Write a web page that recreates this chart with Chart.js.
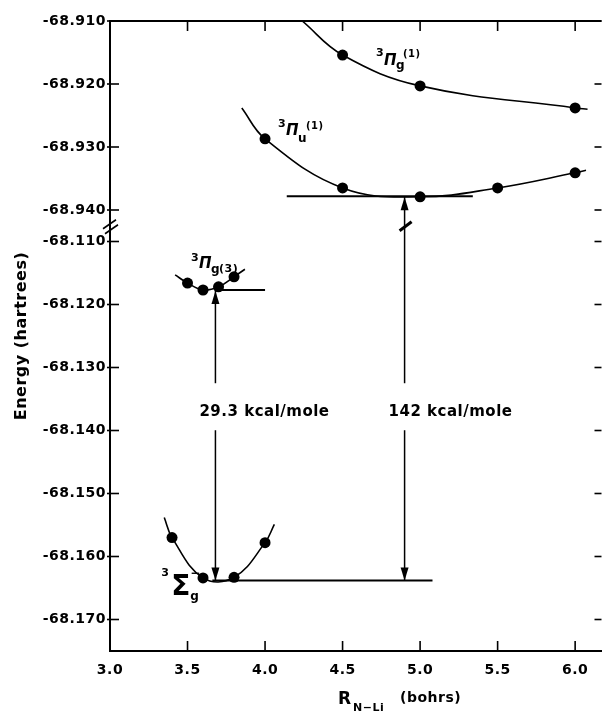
<!DOCTYPE html>
<html>
<head>
<meta charset="utf-8">
<script src="https://cdn.jsdelivr.net/npm/chart.js@4.4.1/dist/chart.umd.min.js"></script>
<style>
  html, body { margin: 0; padding: 0; background: #fff; }
  #chart { display: block; }
</style>
</head>
<body>
<canvas id="chart" width="607" height="714"></canvas>
<script>
// N-Li distance (bohrs) and energy (hartrees) of the computed points
const piG1R = [4.5, 5.0, 6.0];
const piG1E = [-68.9154, -68.9203, -68.9238];
const piU1R = [4.0, 4.5, 5.0, 5.5, 6.0];
const piU1E = [-68.9287, -68.9365, -68.9379, -68.9365, -68.9341];
const piG3R = [3.5, 3.6, 3.7, 3.8];
const piG3E = [-68.1166, -68.1177, -68.1172, -68.1156];
const sigR = [3.4, 3.6, 3.8, 4.0];
const sigE = [-68.1570, -68.1634, -68.1633, -68.1578];

// where the fitted curves start and stop
const piG1Ends = [[4.24, -68.9100], [6.08, -68.9240]];
const piU1Ends = [[3.85, -68.9238], [6.07, -68.9337]];
const piG3Ends = [[3.42, -68.1153], [3.87, -68.1144]];
const sigEnds = [[3.35, -68.1538], [4.06, -68.1549]];

// minimum levels (horizontal lines)
const levelFrom = [4.14, 3.68, 3.66];
const levelTo = [5.34, 4.00, 5.08];
const levelE = [-68.9378, -68.1177, -68.1638];

// vertical transitions
const transR = [3.68, 4.90];
const transTop = [-68.1177, -68.9378];
const transBottom = [-68.1638, -68.1638];
const transLabels = ['29.3 kcal/mole', '142 kcal/mole'];

// axis ticks
const xTicks = [3.0, 3.5, 4.0, 4.5, 5.0, 5.5, 6.0];
const lowerTicks = [-68.170, -68.160, -68.150, -68.140, -68.130, -68.120, -68.110];
const upperTicks = [-68.940, -68.930, -68.920, -68.910];

const fontName = 'DejaVu Sans';
const ink = '#000';

// broken axis: lower block -68.170..-68.110, then a half step gap, then -68.940..-68.910
function eToV(e) {
  return e < -68.5 ? 6.5 + (e + 68.94) * 100 : (e + 68.17) * 100;
}

function pts(rs, es) {
  return rs.map((r, i) => ({ x: r, y: eToV(es[i]) }));
}

function curve(ends, rs, es) {
  return [{ x: ends[0][0], y: eToV(ends[0][1]) }].concat(pts(rs, es), [{ x: ends[1][0], y: eToV(ends[1][1]) }]);
}

const yTickE = lowerTicks.concat(upperTicks);

const dotStyle = { showLine: false, pointRadius: 5.5, pointHoverRadius: 5.5, pointBackgroundColor: ink, pointBorderWidth: 0 };
const curveStyle = { showLine: true, tension: 0.4, pointRadius: 0, borderColor: ink, borderWidth: 1.6, fill: false };
const levelStyle = { showLine: true, tension: 0, pointRadius: 0, borderColor: ink, borderWidth: 2, fill: false };
const arrowStyle = { showLine: true, tension: 0, pointRadius: 0, borderColor: ink, borderWidth: 1.5, fill: false };

const datasets = [
  Object.assign({ data: pts(piG1R, piG1E) }, dotStyle),
  Object.assign({ data: pts(piU1R, piU1E) }, dotStyle),
  Object.assign({ data: pts(piG3R, piG3E) }, dotStyle),
  Object.assign({ data: pts(sigR, sigE) }, dotStyle),
  Object.assign({ data: curve(piG1Ends, piG1R, piG1E) }, curveStyle),
  Object.assign({ data: curve(piU1Ends, piU1R, piU1E) }, curveStyle),
  Object.assign({ data: curve(piG3Ends, piG3R, piG3E) }, curveStyle),
  Object.assign({ data: curve(sigEnds, sigR, sigE) }, curveStyle)
];
levelFrom.forEach((f, i) => {
  datasets.push(Object.assign({ data: [{ x: f, y: eToV(levelE[i]) }, { x: levelTo[i], y: eToV(levelE[i]) }] }, levelStyle));
});
transR.forEach((r, i) => {
  datasets.push(Object.assign({ data: [{ x: r, y: eToV(transBottom[i]) }, { x: r, y: eToV(transTop[i]) }] }, arrowStyle));
});

// state labels: anchor in data units, pieces as [text, dx, dy, size, italic]
const stateLabels = [
  { r: 4.767, e: -68.9170, parts: [['3', -8, -9, 11, false], ['\u03A0', 0, 0, 15, true], ['g', 12, 4, 12, false], ['(1)', 19, -8, 10, false]] },
  { r: 4.135, e: -68.9281, parts: [['3', -8, -8, 11, false], ['\u03A0', 0, 0, 15, true], ['u', 12, 7, 12, false], ['(1)', 20, -6, 10, false]] },
  { r: 3.574, e: -68.1142, parts: [['3', -8, -7, 11, false], ['\u03A0', 0, 0, 15, true], ['g', 12, 5, 12, false], ['(3)', 20, 4, 11, false]] },
  { r: 3.395, e: -68.1661, parts: [['3', -10, -19, 11, false], ['\u03A3', 0, 0, 28, false], ['g', 19, 5, 12, false], ['\u2212', 19, -18, 12, false]] }
];
const transLabelE = -68.1371;

function seg(ctx, x1, y1, x2, y2) {
  ctx.beginPath();
  ctx.moveTo(x1, y1);
  ctx.lineTo(x2, y2);
  ctx.stroke();
}

function arrowHead(ctx, x, tipY, up) {
  const baseY = up ? tipY + 13 : tipY - 13;
  ctx.beginPath();
  ctx.moveTo(x, tipY);
  ctx.lineTo(x - 4, baseY);
  ctx.lineTo(x + 4, baseY);
  ctx.closePath();
  ctx.fill();
}

const decorations = {
  id: 'decorations',
  beforeDraw(chart) {
    chart.ctx.letterSpacing = '0.5px';
  },
  afterDatasetsDraw(chart) {
    const { ctx, scales: { x, y } } = chart;
    ctx.save();
    ctx.fillStyle = ink;
    ctx.strokeStyle = ink;
    ctx.letterSpacing = '0.5px';

    // arrow heads
    transR.forEach((r, i) => {
      const px = x.getPixelForValue(r);
      arrowHead(ctx, px, y.getPixelForValue(eToV(transTop[i])) + 1, true);
      arrowHead(ctx, px, y.getPixelForValue(eToV(transBottom[i])), false);
    });

    // transition energies, cutting the arrows
    ctx.font = 'bold 15px ' + fontName;
    ctx.textBaseline = 'middle';
    ctx.textAlign = 'left';
    transR.forEach((r, i) => {
      const px = x.getPixelForValue(r) - 16;
      const py = y.getPixelForValue(eToV(transLabelE));
      const w = ctx.measureText(transLabels[i]).width;
      ctx.fillStyle = '#fff';
      ctx.fillRect(px - 2, py - 29, w + 4, 47);
      ctx.fillStyle = ink;
      ctx.fillText(transLabels[i], px, py);
    });

    // break mark on the long arrow
    const breakY = y.getPixelForValue(6.25);
    const ax = x.getPixelForValue(transR[1]);
    ctx.lineWidth = 3;
    seg(ctx, ax - 5, breakY + 5, ax + 7, breakY - 4);

    // state labels
    ctx.textBaseline = 'alphabetic';
    stateLabels.forEach(lab => {
      const px = x.getPixelForValue(lab.r);
      const py = y.getPixelForValue(eToV(lab.e));
      lab.parts.forEach(p => {
        ctx.font = (p[4] ? 'italic ' : '') + 'bold ' + p[3] + 'px ' + fontName;
        ctx.fillText(p[0], px + p[1], py + p[2]);
      });
    });
    ctx.restore();
  },
  afterDraw(chart) {
    const { ctx, chartArea: a, scales: { x, y } } = chart;
    ctx.save();
    ctx.strokeStyle = ink;
    ctx.fillStyle = ink;

    // top frame line
    ctx.lineWidth = 2;
    seg(ctx, a.left - 1, a.top, a.right, a.top);

    // inward ticks
    ctx.lineWidth = 1.6;
    xTicks.forEach(v => {
      const px = x.getPixelForValue(v);
      seg(ctx, px, a.top, px, a.top + 10);
      seg(ctx, px, a.bottom, px, a.bottom - 10);
    });
    yTickE.forEach(e => {
      const py = y.getPixelForValue(eToV(e));
      seg(ctx, a.left - 3, py, a.left + 9, py);
      seg(ctx, a.right - 7, py, a.right, py);
    });

    // axis break "//"
    const by = y.getPixelForValue(6.25);
    ctx.lineWidth = 1.6;
    seg(ctx, a.left - 7, by + 3, a.left + 6, by - 6);
    seg(ctx, a.left - 5, by + 8, a.left + 8, by - 1);

    // x axis title with subscript
    ctx.letterSpacing = '0.5px';
    ctx.textAlign = 'left';
    ctx.textBaseline = 'alphabetic';
    const tx = a.left + 228;
    const ty = a.bottom + 53;
    ctx.font = 'bold 17px ' + fontName;
    ctx.fillText('R', tx, ty);
    ctx.font = 'bold 11px ' + fontName;
    ctx.fillText('N\u2212Li', tx + 15, ty + 7);
    ctx.font = 'bold 14px ' + fontName;
    ctx.fillText('(bohrs)', tx + 62, ty - 2);
    ctx.restore();
  }
};

new Chart(document.getElementById('chart'), {
  type: 'scatter',
  data: { datasets: datasets },
  options: {
    responsive: false,
    animation: false,
    events: [],
    layout: { padding: { top: 21, right: 0, bottom: 0, left: 0 } },
    plugins: { legend: { display: false }, tooltip: { enabled: false } },
    scales: {
      x: {
        type: 'linear',
        min: 3.0,
        max: 6.17,
        afterBuildTicks: scale => { scale.ticks = xTicks.map(v => ({ value: v })); },
        afterFit: scale => { scale.height = 63; },
        grid: { display: true, drawOnChartArea: false, drawTicks: false },
        border: { display: true, color: ink, width: 2 },
        ticks: {
          color: ink,
          padding: 11,
          maxRotation: 0,
          font: { family: fontName, size: 14, weight: 'bold' },
          callback: v => v.toFixed(1)
        }
      },
      y: {
        type: 'linear',
        min: -0.5,
        max: 9.5,
        afterBuildTicks: scale => { scale.ticks = yTickE.map(e => ({ value: eToV(e) })); },
        afterFit: scale => { scale.width = 110; },
        grid: { display: true, drawOnChartArea: false, drawTicks: false },
        border: { display: true, color: ink, width: 2 },
        ticks: {
          color: ink,
          padding: 4,
          font: { family: fontName, size: 14, weight: 'bold' },
          callback: (v, i) => yTickE[i].toFixed(3)
        },
        title: {
          display: true,
          text: 'Energy (hartrees)',
          color: ink,
          font: { family: fontName, size: 16, weight: 'bold' },
          padding: { top: 12, bottom: 0 }
        }
      }
    }
  },
  plugins: [decorations]
});
</script>
</body>
</html>
